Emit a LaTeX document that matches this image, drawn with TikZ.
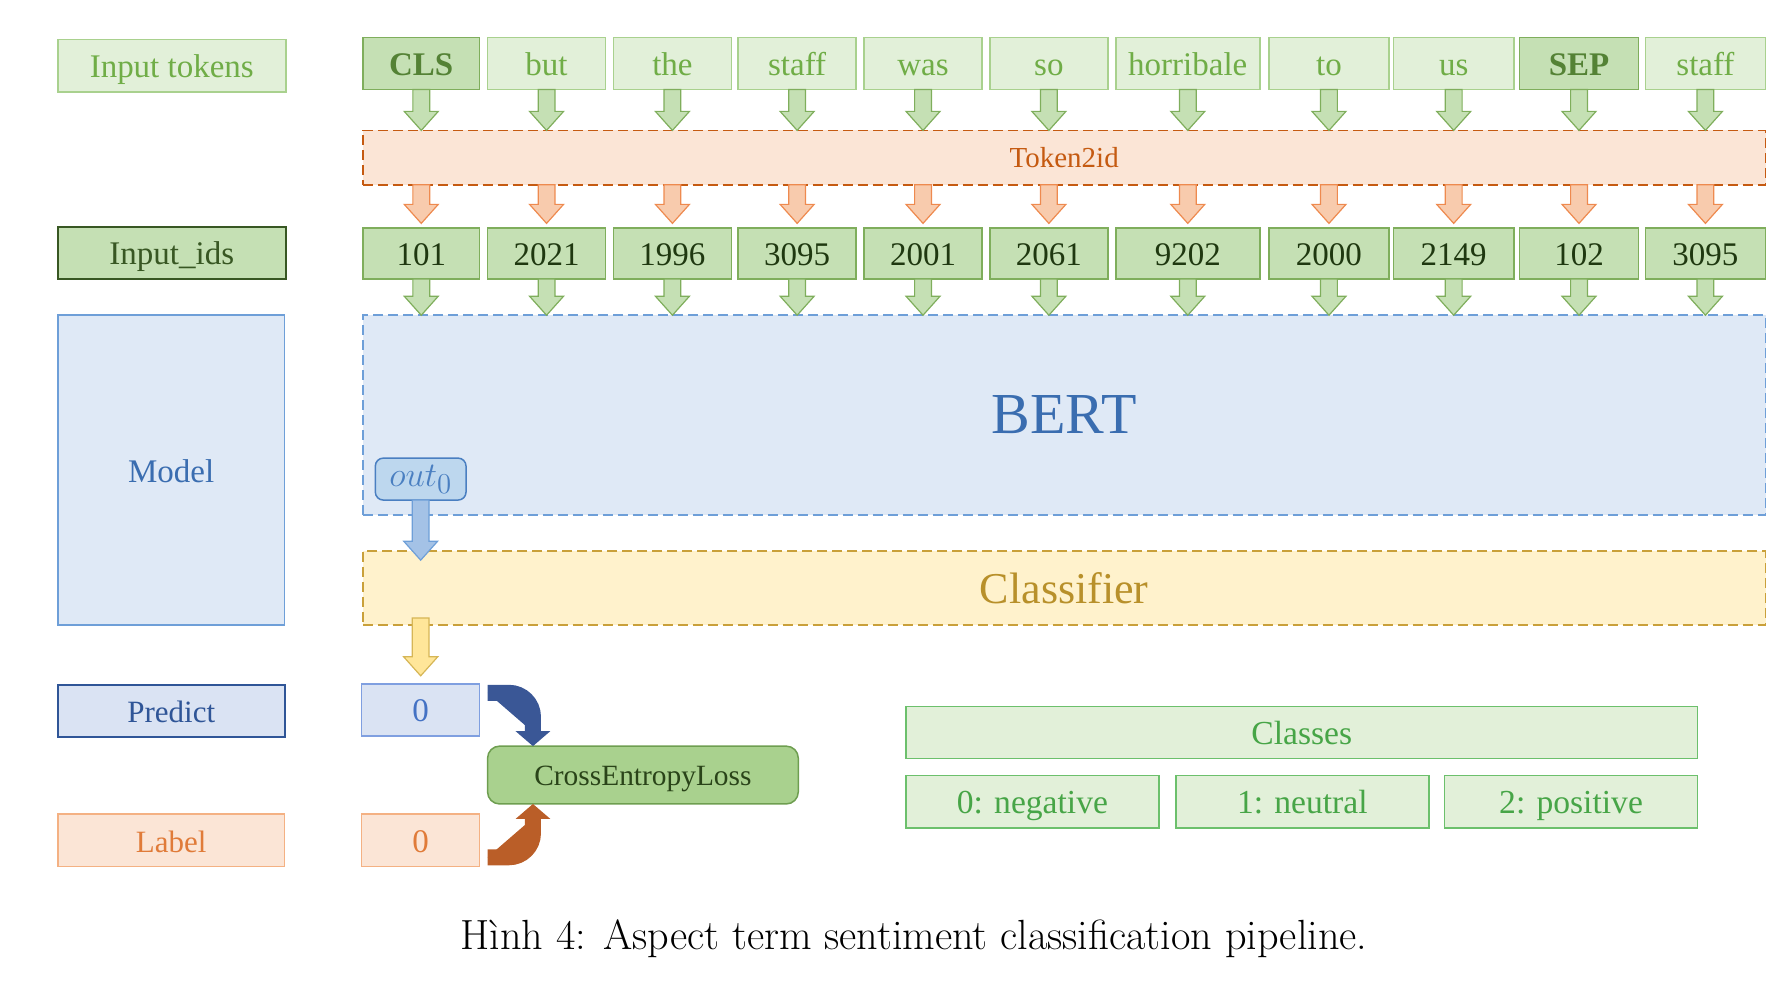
\documentclass[tikz,border=0pt]{standalone}
\usepackage{fontspec}
\newfontfamily\tnr{Liberation Serif}
\usetikzlibrary{calc,arrows.meta}
\newlength\U \setlength\U{0.567pt}
\definecolor{lgfill}{HTML}{E2F0D9}
\definecolor{lgdraw}{HTML}{A9D18E}
\definecolor{lgtext}{HTML}{70AD47}
\definecolor{mgfill}{HTML}{C5E0B4}
\definecolor{mgdraw}{HTML}{7FAE5C}
\definecolor{dgtext}{HTML}{548235}
\definecolor{idtext}{HTML}{1F3810}
\definecolor{dgdraw}{HTML}{385723}
\definecolor{orfill}{HTML}{FBE5D6}
\definecolor{ordraw}{HTML}{C55A11}
\definecolor{orafill}{HTML}{F8CBAD}
\definecolor{oradraw}{HTML}{EE8A4F}
\definecolor{blfill}{HTML}{DFE9F6}
\definecolor{bldraw}{HTML}{6E9FD8}
\definecolor{bltext}{HTML}{3A6DB0}
\definecolor{outfill}{HTML}{BDD7EE}
\definecolor{outdraw}{HTML}{4A7FC1}
\definecolor{blafill}{HTML}{A4C2E6}
\definecolor{yefill}{HTML}{FFF2CC}
\definecolor{yedraw}{HTML}{C9A03A}
\definecolor{yetext}{HTML}{B8902A}
\definecolor{yafill}{HTML}{FFE699}
\definecolor{yadraw}{HTML}{D6B656}
\definecolor{pfill}{HTML}{DAE3F3}
\definecolor{pdraw}{HTML}{2F5597}
\definecolor{pvdraw}{HTML}{7F9FE0}
\definecolor{pvtext}{HTML}{4472C4}
\definecolor{lbdraw}{HTML}{F4B183}
\definecolor{lbtext}{HTML}{E07B39}
\definecolor{celfill}{HTML}{A9D18E}
\definecolor{celdraw}{HTML}{6E9E50}
\definecolor{celtext}{HTML}{2A4419}
\definecolor{bentblue}{HTML}{3A5796}
\definecolor{bentor}{HTML}{BA5E28}
\definecolor{clfill}{HTML}{E2F0D9}
\definecolor{cldraw}{HTML}{6CC06C}
\definecolor{cltext}{HTML}{47A547}
\tikzset{
  bx/.style={rectangle, inner sep=0pt, outer sep=0pt, line width=0.75pt, font=\tnr\fontsize{16.5}{18}\selectfont, text height=12pt, text depth=0pt},
  tok/.style={bx, fill=lgfill, draw=lgdraw, text=lgtext},
  tokb/.style={bx, fill=mgfill, draw=mgdraw, text=dgtext, font=\tnr\bfseries\fontsize{16.5}{18}\selectfont},
  idb/.style={bx, fill=mgfill, draw=mgdraw, text=idtext},
  wide/.style={bx, text height=, text depth=},
  garrow/.style={fill=mgfill, draw=mgdraw, line width=0.6pt},
  oarrow/.style={fill=orafill, draw=oradraw, line width=0.6pt},
  barrow/.style={fill=blafill, draw=bldraw, line width=0.6pt},
  yarrow/.style={fill=yafill, draw=yadraw, line width=0.6pt},
  dsh/.style={dash pattern=on 5pt off 2.5pt},
  bent/.style={line width=8pt, rounded corners=12pt, -{Triangle[width=17pt,length=7.5pt]}},
}
% box: name, x1, y1, x2, y2, style, text
\newcommand\bx[7]{\node[#6, minimum width={(#4-#2)*\U}, minimum height={(#5-#3)*\U}] (#1) at ({(#2+#4)/2},{(#3+#5)/2}) {#7};}
% block arrow: start, end (named coordinates), style
\newcommand\barr[3]{\path[#3] let \p1=(#1), \p2=(#2) in (\x1-4.2pt,\y1) -- (\x1+4.2pt,\y1) -- (\x1+4.2pt,\y2+9.5pt) -- (\x1+8.5pt,\y2+9.5pt) -- (\x1,\y2) -- (\x1-8.5pt,\y2+9.5pt) -- (\x1-4.2pt,\y2+9.5pt) -- cycle;}
\begin{document}
\begin{tikzpicture}[x=0.567pt, y=-0.567pt]
\useasboundingbox (0,0) rectangle (1568,873);
% left labels
\bx{lin}{51}{35}{252}{81}{tok}{Input tokens}
\bx{lids}{51}{200}{252}{246}{bx, fill=mgfill, draw=dgdraw, line width=1.1pt, text=dgdraw}{Input\_ids}
\bx{lmod}{51}{278}{251}{551}{bx, fill=blfill, draw=bldraw, text=bltext}{Model}
\bx{lpred}{51}{604}{251}{650}{bx, fill=pfill, draw=pdraw, line width=1.1pt, text=pdraw, font=\tnr\fontsize{15.5}{18}\selectfont}{Predict}
\bx{llab}{51}{718}{251}{764}{bx, fill=orfill, draw=lbdraw, text=lbtext, font=\tnr\fontsize{15.5}{18}\selectfont}{Label}
% wide boxes
\bx{t2id}{320}{115}{1557}{163}{wide, fill=orfill, draw=ordraw, dsh, text=ordraw, font=\tnr\fontsize{14.5}{16}\selectfont}{Token2id}
\bx{bert}{320}{278}{1557}{454}{wide, fill=blfill, draw=bldraw, dsh, text=bltext, font=\tnr\fontsize{29}{32}\selectfont}{BERT}
\bx{clf}{320}{486}{1557}{551}{wide, fill=yefill, draw=yedraw, dsh, text=yetext, font=\tnr\fontsize{22}{24}\selectfont}{Classifier}
% tokens and ids
\foreach \k/\xa/\xb/\st/\w/\id in {1/320/423/tokb/CLS/101, 2/430/534/tok/but/2021, 3/541/645/tok/the/1996, 4/651/755/tok/staff/3095, 5/762/866/tok/was/2001, 6/873/977/tok/so/2061, 7/984/1111/tok/horribale/9202, 8/1119/1225/tok/to/2000, 9/1229/1335/tok/us/2149, 10/1340/1445/tokb/SEP/102, 11/1451/1557/tok/staff/3095}{
  \bx{t\k}{\xa}{33}{\xb}{79}{\st}{\w}
  \bx{i\k}{\xa}{201}{\xb}{246}{idb}{\id}
  \coordinate (ga\k) at (t\k.south |- t2id.north);
  \coordinate (os\k) at (t\k.south |- t2id.south);
  \path (t\k.south |- i\k.north) ++(0,-4) coordinate (oe\k);
  \coordinate (gb\k) at (i\k.south |- bert.north);
  \barr{t\k.south}{ga\k}{garrow}
  \barr{os\k}{oe\k}{oarrow}
  \barr{i\k.south}{gb\k}{garrow}
}
% out0
\node[wide, rounded corners=4pt, fill=outfill, draw=outdraw, minimum width={80*\U}, minimum height={37*\U}, text=outdraw, font=\fontsize{19}{20}\selectfont] (out0) at (371,422.5) {$out_0$};
\path (out0.south |- clf.north) ++(0,8) coordinate (bt);
\barr{out0.south}{bt}{barrow}
% predict / label values
\bx{pv}{319}{603}{423}{649}{bx, fill=pfill, draw=pvdraw, text=pvtext}{0}
\bx{lv}{319}{718}{423}{764}{bx, fill=orfill, draw=lbdraw, text=lbtext}{0}
\path (pv.north |- clf.south) ++(0,-6) coordinate (ys);
\path (pv.north) ++(0,-7) coordinate (ye);
\barr{ys}{ye}{yarrow}
% loss
\node[bx, rounded corners=6pt, fill=celfill, draw=celdraw, minimum width={274*\U}, minimum height={51*\U}, text=celtext, font=\tnr\fontsize{14.7}{16}\selectfont, text height=10.5pt] (cel) at (567,683.5) {CrossEntropyLoss};
\path (pv.east) ++(7,-15) coordinate (bs);
\path (cel.north west) ++(40,0) coordinate (be);
\path (lv.east) ++(7,15) coordinate (os);
\path (cel.south west) ++(40,0) coordinate (oe);
\draw[bent, draw=bentblue, fill=bentblue] (bs) -| (be);
\draw[bent, draw=bentor, fill=bentor] (os) -| (oe);
% classes
\tikzset{cls/.style={bx, fill=clfill, draw=cldraw, text=cltext, font=\tnr\fontsize{16.8}{18}\selectfont}}
\bx{classes}{799}{623}{1497}{669}{cls}{Classes}
\bx{c0}{799}{684}{1022}{730}{cls}{0: negative}
\bx{c1}{1037}{684}{1260}{730}{cls}{1: neutral}
\bx{c2}{1274}{684}{1497}{730}{cls}{2: positive}
% caption
\node[font=\fontsize{21.1}{23}\selectfont] (cap) at (806,828) {Hình 4: Aspect term sentiment classification pipeline.};
\end{tikzpicture}
\end{document}
